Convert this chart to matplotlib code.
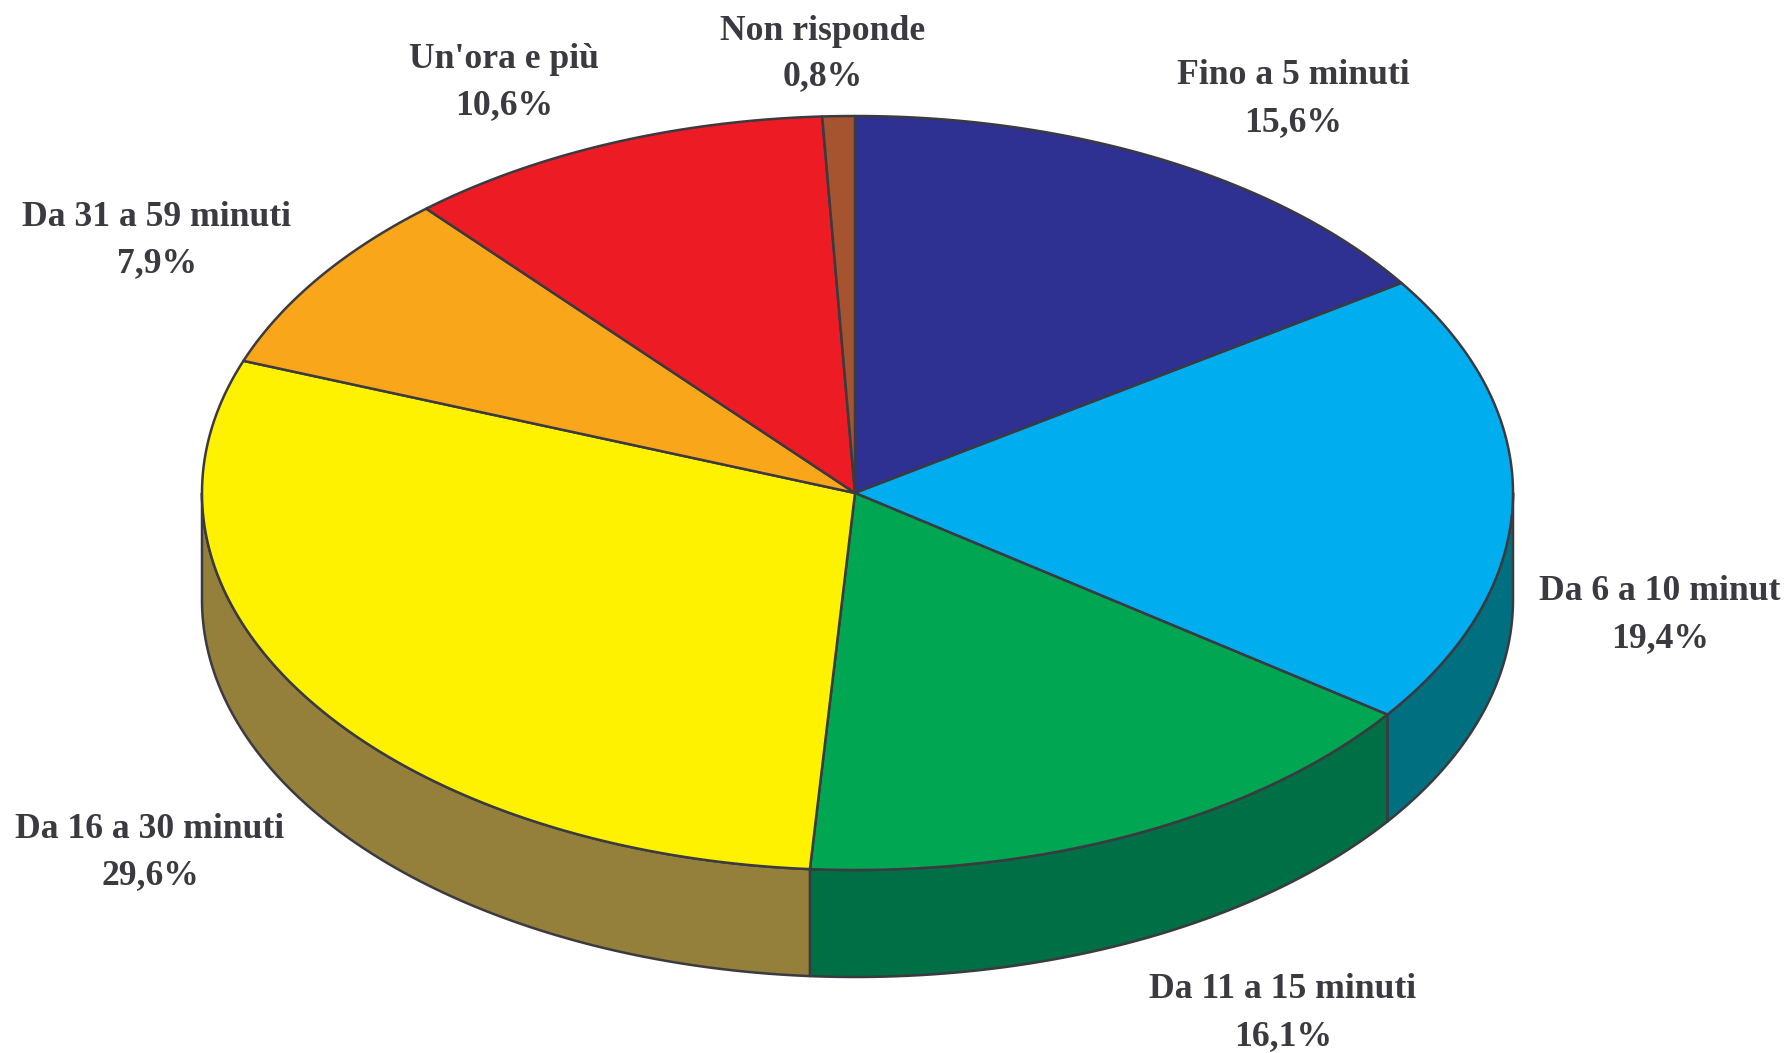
import numpy as np
import matplotlib
matplotlib.use("Agg")
import matplotlib.pyplot as plt

categories = [
    "Fino a 5 minuti",
    "Da 6 a 10 minut",
    "Da 11 a 15 minuti",
    "Da 16 a 30 minuti",
    "Da 31 a 59 minuti",
    "Un'ora e più",
    "Non risponde",
]
values = [15.6, 19.4, 16.1, 29.6, 7.9, 10.6, 0.8]
top_colors = ["#2E3192", "#00AEEF", "#00A651", "#FFF200", "#FAA61A", "#ED1C24", "#A6532F"]
side_colors = ["#1C1E5A", "#006F80", "#006F45", "#94803A", "#94803A", "#8E1015", "#63321C"]

# label centres in pixels: (x, y of name, y of value)
label_pos = [
    (1293, 75, 123),
    (1660, 591, 639),
    (1283, 990, 1037),
    (150, 829, 876),
    (157, 218, 264),
    (504, 60, 106),
    (823, 31, 77),
]

CX, CY = 855, 493
RX_RIGHT, RX_LEFT = 658, 653
RY = 377
DEPTH = 107
EDGE = "#3A3A40"
TEXT = "#3A3A40"


def arc(t1, t2, dy=0):
    # angles in degrees, clockwise from the top of the ellipse
    t = np.radians(np.linspace(t1, t2, max(int(abs(t2 - t1) * 2), 2)))
    s = np.sin(t)
    rx = np.where(s >= 0, RX_RIGHT, RX_LEFT)
    return CX + rx * s, CY + dy - RY * np.cos(t)


fig = plt.figure(figsize=(17.87, 10.53), dpi=100)
ax = fig.add_axes([0, 0, 1, 1])
ax.set_xlim(0, 1787)
ax.set_ylim(1053, 0)
ax.axis("off")

edges = np.concatenate([[0], np.cumsum(values)]) / np.sum(values) * 360

# side wall, only the front half of the ellipse is visible
for i in range(len(values)):
    t1, t2 = max(edges[i], 90), min(edges[i + 1], 270)
    if t2 <= t1:
        continue
    x1, y1 = arc(t1, t2)
    x2, y2 = arc(t2, t1, DEPTH)
    ax.fill(np.r_[x1, x2], np.r_[y1, y2], facecolor=side_colors[i], edgecolor=EDGE, lw=1.8, joinstyle="round")

for i in range(len(values)):
    x, y = arc(edges[i], edges[i + 1])
    ax.fill(np.r_[CX, x], np.r_[CY, y], facecolor=top_colors[i], edgecolor=EDGE, lw=1.8, joinstyle="round")

for name, val, (lx, ly1, ly2) in zip(categories, values, label_pos):
    ax.text(lx, ly1, name, ha="center", va="center", fontsize=25.7, fontweight="bold",
            family="Liberation Serif", color=TEXT)
    ax.text(lx, ly2, f"{val:.1f}%".replace(".", ","), ha="center", va="center", fontsize=25.7,
            fontweight="bold", family="Liberation Serif", color=TEXT)

fig.savefig("out.png", dpi=100)
plt.close(fig)
